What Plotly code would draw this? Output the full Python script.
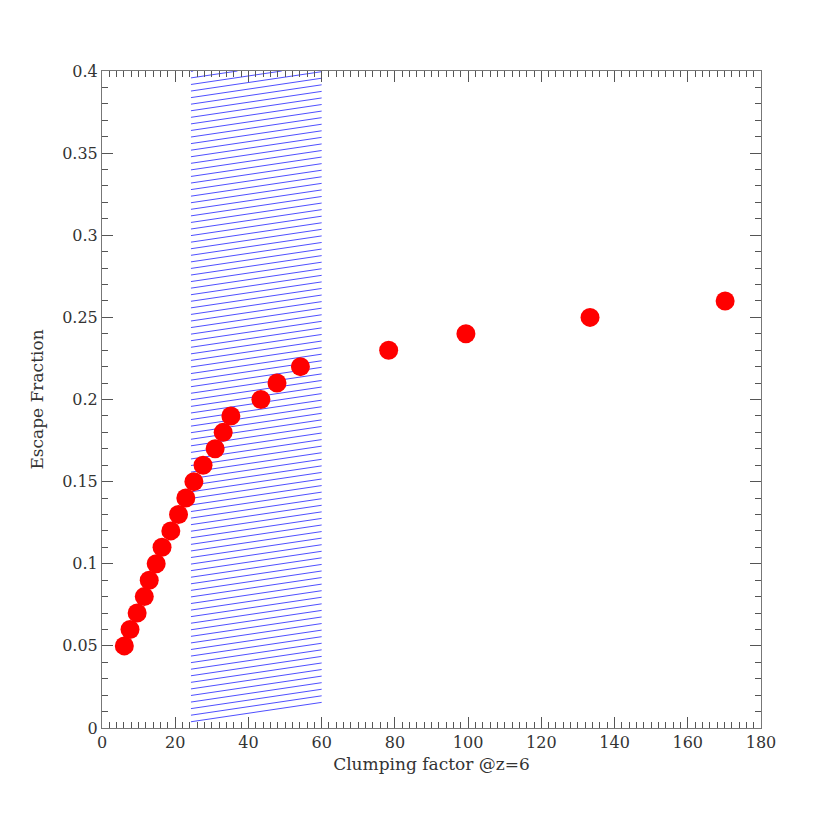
import plotly.graph_objects as go

# Data
clumping = [6.1, 7.65, 9.6, 11.55, 12.9, 14.8, 16.4, 18.8, 20.9, 22.9, 25.1, 27.6,
            30.9, 33.1, 35.2, 43.4, 47.8, 54.2, 78.3, 99.4, 133.3, 170.2]
escape = [0.05, 0.06, 0.07, 0.08, 0.09, 0.10, 0.11, 0.12, 0.13, 0.14, 0.15, 0.16,
          0.17, 0.18, 0.19, 0.20, 0.21, 0.22, 0.23, 0.24, 0.25, 0.26]

# Hatched band
band_x = [24.3, 60.0]
band_y = [0.0, 0.4]
hatch_first = 0.0038
hatch_step = 0.004
hatch_rise = 0.0118

x_ticks = [0, 20, 40, 60, 80, 100, 120, 140, 160, 180]
y_ticks = [0, 0.05, 0.1, 0.15, 0.2, 0.25, 0.3, 0.35, 0.4]
y_tick_text = ["0", "0.05", "0.1", "0.15", "0.2", "0.25", "0.3", "0.35", "0.4"]

# build hatch segments (clipped at top of band)
hx, hy = [], []
x0, x1 = band_x
slope = hatch_rise / (x1 - x0)
y = hatch_first
while y < band_y[1]:
    ya, yb = y, y + hatch_rise
    xb = x1
    if yb > band_y[1]:
        xb = x0 + (band_y[1] - ya) / slope
        yb = band_y[1]
    hx += [x0, xb, None]
    hy += [ya, yb, None]
    y += hatch_step

fig = go.Figure()
fig.add_trace(go.Scatter(x=hx, y=hy, mode="lines",
                         line=dict(color="#2222ff", width=0.8),
                         hoverinfo="skip", showlegend=False))
fig.add_trace(go.Scatter(x=clumping, y=escape, mode="markers",
                         marker=dict(color="#ff0000", size=19, line=dict(width=0)),
                         showlegend=False))

tick_font = dict(family="DejaVu Serif", size=16, color="#333333")
title_font = dict(family="DejaVu Serif", size=17, color="#333333")
axis_common = dict(showgrid=False, zeroline=False, showline=True, linecolor="#777777",
                   linewidth=1, mirror="allticks", ticks="inside", ticklen=11,
                   tickcolor="#555555", tickwidth=1, tickfont=tick_font)

fig.update_xaxes(range=[0, 180], tickvals=x_ticks,
                 minor=dict(ticks="inside", ticklen=6, dtick=2, tickcolor="#555555"),
                 title=dict(text="Clumping factor @z=6", font=title_font, standoff=6),
                 **axis_common)
fig.update_yaxes(range=[0, 0.4], tickvals=y_ticks, ticktext=y_tick_text,
                 minor=dict(ticks="inside", ticklen=6, dtick=0.01, tickcolor="#555555"),
                 title=dict(text="Escape Fraction", font=title_font, standoff=14),
                 **axis_common)

fig.update_layout(width=830, height=830, plot_bgcolor="white", paper_bgcolor="white",
                  margin=dict(l=94, r=77, t=63, b=110))
fig.write_html("out.html")
